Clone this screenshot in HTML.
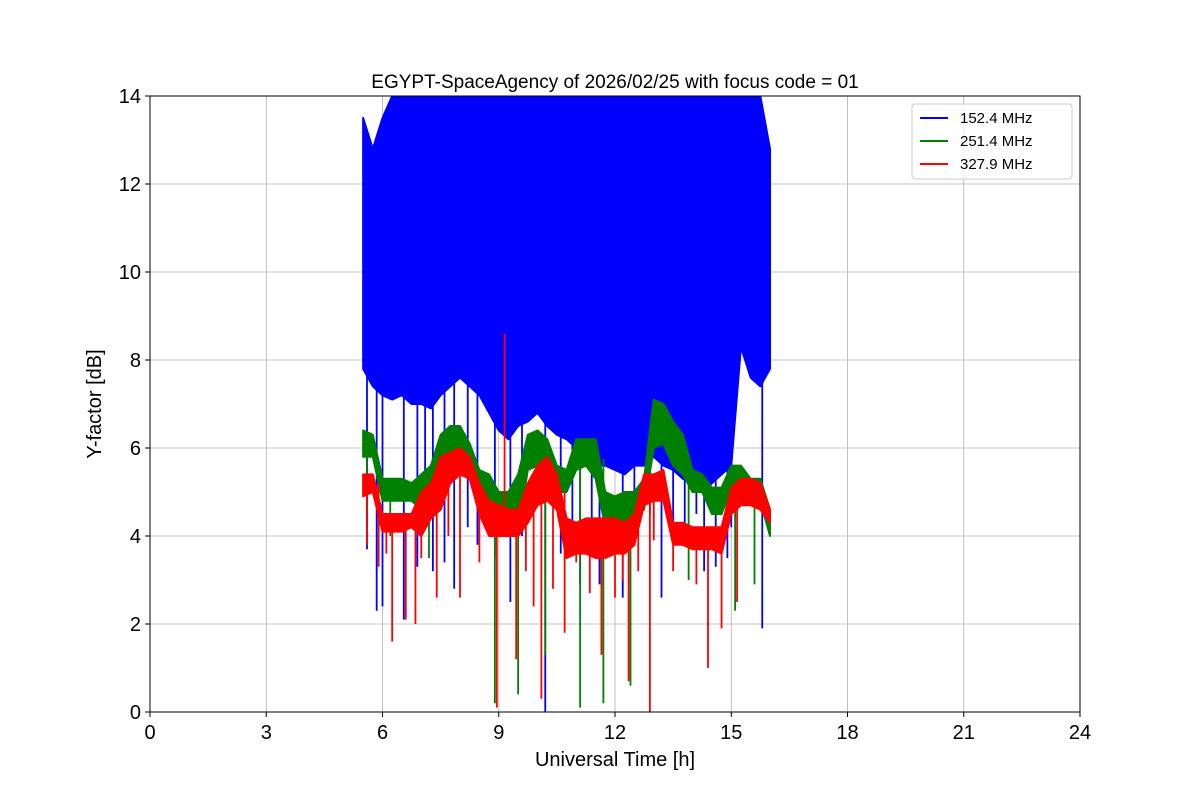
<!DOCTYPE html>
<html><head><meta charset="utf-8"><style>
html,body{margin:0;padding:0;background:#fff;width:1200px;height:800px;overflow:hidden}
svg text{font-family:"Liberation Sans","DejaVu Sans",sans-serif;fill:#000}
</style></head><body>
<svg id="chart" width="1200" height="800" xmlns="http://www.w3.org/2000/svg">
<text x="615" y="88" font-size="19" text-anchor="middle">EGYPT-SpaceAgency of 2026/02/25 with focus code = 01</text>
<g id="grid"></g>
<clipPath id="clip"><rect x="150" y="96" width="930" height="616"/></clipPath>
<g id="series" clip-path="url(#clip)"></g>
<rect x="150" y="96" width="930" height="616" fill="none" stroke="#000" stroke-width="1"/>
<g id="ticks"></g>
<text x="615" y="766" font-size="20" text-anchor="middle">Universal Time [h]</text>
<text transform="translate(101,404) rotate(-90)" font-size="20" text-anchor="middle">Y-factor [dB]</text>
<g>
<rect x="912" y="104" width="160" height="75" rx="3" fill="#fff" fill-opacity="0.8" stroke="#ccc"/>
<g><line x1="920" y1="118" x2="948" y2="118" stroke="#0000ff" stroke-width="2"/><text x="960" y="123" font-size="15">152.4 MHz</text></g>
<g><line x1="920" y1="141" x2="948" y2="141" stroke="#008000" stroke-width="2"/><text x="960" y="146" font-size="15">251.4 MHz</text></g>
<g><line x1="920" y1="164" x2="948" y2="164" stroke="#ff0000" stroke-width="2"/><text x="960" y="169" font-size="15">327.9 MHz</text></g>
</g>
</svg>
<script>
const xTicks=[0,3,6,9,12,15,18,21,24];
const yTicks=[0,2,4,6,8,10,12,14];
const times=[5.5,5.75,6,6.25,6.5,6.75,7,7.25,7.5,7.75,8,8.25,8.5,8.75,9,9.25,9.5,9.75,10,10.25,10.5,10.75,11,11.25,11.5,11.75,12,12.25,12.5,12.75,13,13.25,13.5,13.75,14,14.25,14.5,14.75,15,15.25,15.5,15.75,16];
const blueLow=[7.8,7.4,7.2,7.1,7.2,7,7,6.9,7.2,7.4,7.6,7.4,7.2,6.8,6.4,6.2,6.5,6.6,6.8,6.5,6.3,6.2,6,5.8,5.6,5.6,5.5,5.4,5.6,5.6,5.8,5.6,5.5,5.3,5.2,5,5.2,5.4,5.6,8.3,7.6,7.4,7.8];
const blueHigh=[13.5,12.8,13.5,14,14,14,14,14,14,14,14,14,14,14,14,14,14,14,14,14,14,14,14,14,14,14,14,14,14,14,14,14,14,14,14,14,14,14,14,14,14,14,12.8];
const greenLow=[5.8,5.8,4.8,4.8,4.8,4.8,4.6,4.5,5.6,5.8,5.8,5.4,4.6,4.5,4.2,4,4.1,5.5,5.6,5.5,5,5,5.5,5.6,5.3,4.2,4,4.3,4.5,4.6,6,6.1,5.6,5.4,5,5,4.5,4.5,5.1,5.2,4.8,4.8,4];
const greenHigh=[6.4,6.3,5.3,5.3,5.3,5.2,5.4,5.6,6.3,6.5,6.5,6.1,5.5,5.4,5,5,5.4,6.3,6.4,6.2,5.6,5.5,6.2,6.2,6.2,5,4.9,5,5,5.3,7.1,7,6.6,6.3,5.5,5.4,5.1,5.1,5.6,5.6,5.3,5.3,4.6];
const redLow=[4.9,5,4.1,4.1,4.1,4.2,4,4.4,4.6,5.2,5.4,5.3,4.5,4,4,4,4,4.3,4.7,4.8,4.6,3.5,3.6,3.6,3.5,3.5,3.6,3.6,3.8,4.7,4.8,4.8,3.8,3.8,3.7,3.7,3.7,3.6,4.5,4.7,4.7,4.6,4.3];
const redHigh=[5.4,5.4,4.5,4.5,4.5,4.5,5,5.2,5.8,5.9,6,5.8,5.2,4.8,4.7,4.6,4.6,5.2,5.6,5.8,5.4,4.4,4.3,4.4,4.4,4.4,4.4,4.3,4.5,5.4,5.4,5.5,4.3,4.3,4.2,4.2,4.2,4.2,5.1,5.3,5.3,5.2,4.6];
const blueSpikeT=[5.6,5.85,6,6.55,6.9,7.3,7.6,7.85,8.45,8.9,9.3,10.2,10.6,11.1,11.6,12.2,12.9,13.2,13.8,14.3,14.6,15,15.8,7.1,8.2,9.6,10.9,11.4,12.5,13.5,14.1,14.9];
const blueSpikeV=[3.7,2.3,2.4,2.1,3.3,3.2,3.4,2.8,3.8,3.5,2.5,0,3.6,2.9,2.9,2.6,4.5,2.6,3.8,3.2,3.3,4.2,1.9,4.5,4.2,4,4,3.8,4.2,4.3,4.5,3.5];
const greenSpikeT=[5.6,6.2,7.2,8.9,9.5,10.2,11.1,11.7,12.4,13.9,15.1,15.6];
const greenSpikeV=[4.5,4,3.5,0.2,0.4,1.3,0.1,0.2,0.6,3,2.3,2.9];
const redSpikeT=[5.6,5.9,6.25,6.6,6.85,7.4,8,8.5,8.95,9.15,9.45,9.9,10.1,10.4,10.7,11.35,11.65,12,12.35,12.6,12.9,13.5,14.1,14.4,14.75,15.15,6.1,7.0,7.7,9.7,11.0,12.2,13.0];
const redSpikeV=[3.8,3.3,1.6,2.1,2,2.6,2.6,3.4,0.1,8.6,1.2,2.4,0.3,2.8,1.8,2.7,1.3,2.6,0.7,3.2,0,3.2,2.9,1,1.9,2.5,3.6,3.5,4,3.2,3.4,3.0,3.9];
const NS='http://www.w3.org/2000/svg';
const X0=150,X1=1080,Y0=712,Y1=96;
const sx=t=>X0+(t/24)*(X1-X0);
const sy=v=>Y0-(v/14)*(Y0-Y1);
function mk(tag,attrs,parent){const e=document.createElementNS(NS,tag);for(const k in attrs)e.setAttribute(k,attrs[k]);parent.appendChild(e);return e;}
const grid=document.getElementById('grid'),ticks=document.getElementById('ticks'),series=document.getElementById('series');
xTicks.forEach(t=>{
 const g=mk('line',{x1:sx(t),x2:sx(t),y1:Y1,y2:Y0,stroke:'#b0b0b0','stroke-width':0.8},grid);
 
 
 mk('line',{x1:sx(t),x2:sx(t),y1:Y0,y2:Y0+5,stroke:'#000'},ticks);
 const tx=mk('text',{x:sx(t),y:Y0+27,'font-size':20,'text-anchor':'middle'},ticks);tx.textContent=t;
 
 
});
yTicks.forEach(v=>{
 const g=mk('line',{x1:X0,x2:X1,y1:sy(v),y2:sy(v),stroke:'#b0b0b0','stroke-width':0.8},grid);
 
 
 mk('line',{x1:X0-5,x2:X0,y1:sy(v),y2:sy(v),stroke:'#000'},ticks);
 const tx=mk('text',{x:X0-9,y:sy(v)+7,'font-size':20,'text-anchor':'end'},ticks);tx.textContent=v;
 
 
});
function drawSeries(name,color,lo,hi,sT,sV){
 const g=mk('g',{},series);
 
 
 let pts=times.map((t,i)=>sx(t)+','+sy(hi[i]));
 for(let i=times.length-1;i>=0;i--)pts.push(sx(times[i])+','+sy(lo[i]));
 mk('polygon',{points:pts.join(' '),fill:color,stroke:color,'stroke-width':2,'stroke-linejoin':'round'},g);
 sT.forEach((t,i)=>{
  let j=0;while(j<times.length-1&&times[j+1]<=t)j++;
  const base=(lo[j]+hi[j])/2;
  mk('line',{x1:sx(t),x2:sx(t),y1:sy(base),y2:sy(sV[i]),stroke:color,'stroke-width':1.8},g);
 });
}
drawSeries('series-152-mhz','#0000ff',blueLow,blueHigh,blueSpikeT,blueSpikeV);
drawSeries('series-251-mhz','#008000',greenLow,greenHigh,greenSpikeT,greenSpikeV);
drawSeries('series-327-mhz','#ff0000',redLow,redHigh,redSpikeT,redSpikeV);
</script>
</body></html>
